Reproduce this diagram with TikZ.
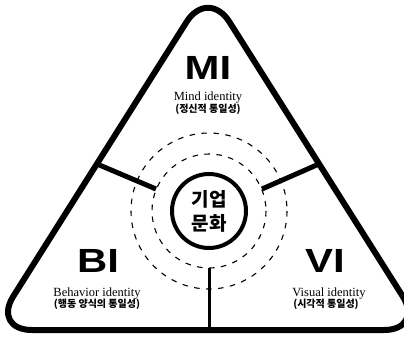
\documentclass[tikz,border=0pt]{standalone}
\usepackage{fontspec}
\setmainfont{Liberation Serif}
\newfontfamily\krfont{Noto Sans CJK KR}
\newfontfamily\capfont{Liberation Sans}
\usepackage{graphicx}
\usetikzlibrary{positioning, calc}
\newcommand\widecap[1]{\scalebox{1.25}[1]{#1}}

\begin{document}
\begin{tikzpicture}[
  x=1pt, y=-1pt,
  outline/.style={line width=6pt, rounded corners=40pt, line join=round},
  spoke/.style={line width=5pt},
  ring/.style={dash pattern=on 5.5pt off 6.5pt, line width=1.1pt},
  core/.style={circle, draw, line width=4pt, minimum size=74pt, inner sep=0pt,
               align=center, font=\krfont\bfseries\fontsize{19}{24}\selectfont},
  badge/.style={font=\capfont\bfseries\fontsize{33.5}{34}\selectfont, inner sep=0pt},
  idname/.style={font=\fontsize{12.5}{14}\selectfont, inner sep=0pt, anchor=base},
  idsub/.style={font=\krfont\bfseries\fontsize{10}{12}\selectfont, inner sep=0pt},
]
  \useasboundingbox (0,0) rectangle (404,337);

  % rounded triangle
  \coordinate (top) at (208,-12);
  \coordinate (bl) at (-8,330);
  \coordinate (br) at (424,330);
  \draw[outline] (bl) -- (top) -- (br) -- cycle;

  % centre
  \node[core] (core) at (209,211) {기업\\문화};
  \draw[ring] (core.center) circle[radius=57];
  \draw[ring] (core.center) circle[radius=78];

  % spokes
  \coordinate (lin) at (156,189);
  \coordinate (lout) at (97,164);
  \coordinate (rin) at (262,189);
  \coordinate (rout) at (319,164);
  \coordinate (bin) at (209,268);
  \coordinate (bout) at (209,330);
  \draw[spoke] (lin) -- (lout);
  \draw[spoke] (rin) -- (rout);
  \draw[line width=3pt] (bin) -- (bout);

  % labels
  \node[badge] (mi) at (208,67.5) {\widecap{MI}};
  \node[idname] (mitext) at (208,100) {Mind identity};
  \node[idsub] (misub) at (208,109) {(정신적 통일성)};

  \node[badge] (bi) at (98,261) {\widecap{BI}};
  \node[idname] (bitext) at (97,296) {Behavior identity};
  \node[idsub] (bisub) at (97,304) {(행동 양식의 통일성)};

  \node[badge] (vi) at (325,261) {\widecap{VI}};
  \node[idname] (vitext) at (329,296) {Visual identity};
  \node[idsub] (visub) at (326,304) {(시각적 통일성)};
\end{tikzpicture}
\end{document}
